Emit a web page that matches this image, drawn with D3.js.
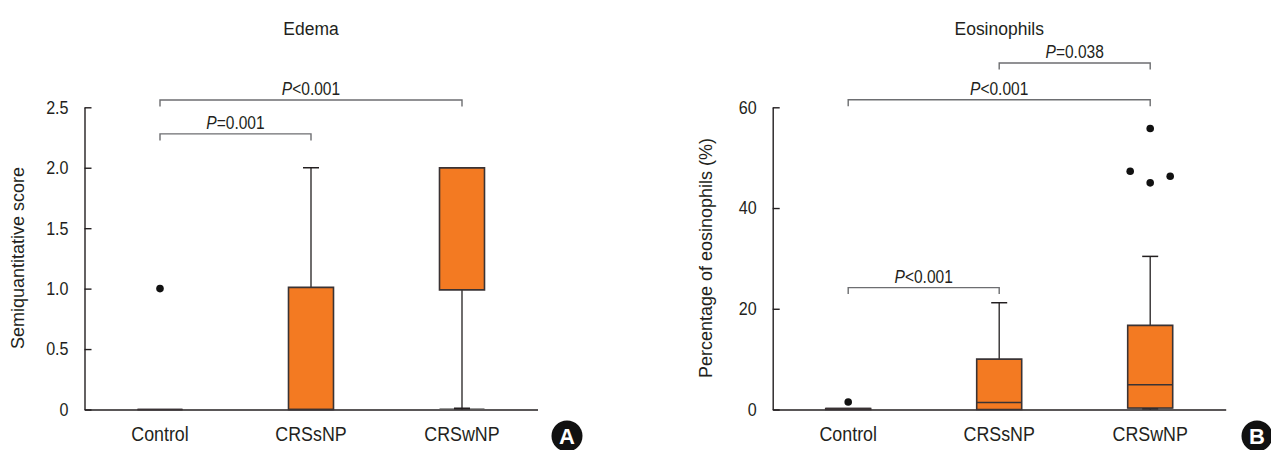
<!DOCTYPE html>
<html>
<head>
<meta charset="utf-8">
<script src="https://cdn.jsdelivr.net/npm/d3@7"></script>
<style>
  html, body { margin: 0; padding: 0; background: #fff; }
  svg { display: block; }
</style>
</head>
<body>
<svg id="chart" width="1271" height="450"></svg>
<script>
// ---------- data ----------
const categories = ["Control", "CRSsNP", "CRSwNP"];

// Panel A: Edema (semiquantitative score)
const edemaTicks = [0, 0.5, 1.0, 1.5, 2.0, 2.5];
const edemaTickLabels = ["0", "0.5", "1.0", "1.5", "2.0", "2.5"];
const edemaLow = [0, 0, 0];
const edemaQ1 = [0, 0, 0.99];
const edemaMedian = [0, 0, 2.0];
const edemaQ3 = [0, 1.01, 2.0];
const edemaHigh = [0, 2.0, 2.0];
const edemaOutliers = [[1.0], [], []];
const edemaComparisons = [
  { from: "Control", to: "CRSsNP", level: 2.28, label: ["P", "=0.001"] },
  { from: "Control", to: "CRSwNP", level: 2.56, label: ["P", "<0.001"] }
];

// Panel B: Eosinophils (%)
const eosTicks = [0, 20, 40, 60];
const eosTickLabels = ["0", "20", "40", "60"];
const eosLow = [0, 0, 0];
const eosQ1 = [0, 0, 0.3];
const eosMedian = [0.2, 1.4, 4.9];
const eosQ3 = [0.2, 10.0, 16.7];
const eosHigh = [0.2, 21.2, 30.4];
const eosOutliers = [[1.5], [], [55.8, 47.3, 45.0, 46.3]];
const eosComparisons = [
  { from: "Control", to: "CRSsNP", level: 24.2, label: ["P", "<0.001"] },
  { from: "Control", to: "CRSwNP", level: 61.5, label: ["P", "<0.001"] },
  { from: "CRSsNP", to: "CRSwNP", level: 68.8, label: ["P", "=0.038"] }
];

// ---------- drawing ----------
const svg = d3.select("#chart");
const ORANGE = "#F37A22";
const INK = "#231f20";

// condensed look built from Liberation Sans with a horizontal squeeze
function narrow(sel, size, squeeze) {
  sel.attr("font-family", "'Liberation Sans', Arial, sans-serif")
    .attr("font-size", size)
    .each(function () {
      const t = d3.select(this);
      const xv = +t.attr("x") || 0;
      t.attr("x", xv / squeeze).attr("transform", `scale(${squeeze},1)`);
    });
}

function panel(opts) {
  const g = svg.append("g");
  const x0 = opts.left, x1 = opts.left + 453;
  const yBottom = 409.5, yTop = 107.3;
  const x = d3.scaleBand().domain(categories).range([x0, x1]).paddingInner(0).paddingOuter(0);
  const y = d3.scaleLinear().domain(opts.domain).range([yBottom, yTop]);
  const cx = c => x(c) + x.bandwidth() / 2;
  const boxW = 45, capW = 16;

  // title
  g.append("text")
    .attr("x", cx(categories[1])).attr("y", 35)
    .attr("text-anchor", "middle").attr("fill", INK)
    .text(opts.title)
    .call(narrow, 19, 0.92);

  // y axis
  const yAxis = d3.axisLeft(y).tickValues(opts.ticks)
    .tickFormat((d, i) => opts.tickLabels[i])
    .tickSizeInner(-7).tickSizeOuter(0).tickPadding(16);
  const ya = g.append("g").attr("transform", `translate(${x0},0)`).call(yAxis);
  ya.attr("font-family", null).attr("font-size", null);
  ya.select(".domain").attr("stroke", INK).attr("stroke-width", 1.4);
  ya.selectAll(".tick line").attr("stroke", INK).attr("stroke-width", 1.4);
  ya.selectAll(".tick text").attr("fill", INK).call(narrow, 18.5, 0.87);

  // x axis
  const xAxis = d3.axisBottom(x).tickSize(0).tickPadding(17);
  const xa = g.append("g").attr("transform", `translate(0,${yBottom})`).call(xAxis);
  xa.attr("font-family", null).attr("font-size", null);
  xa.select(".domain").attr("stroke", INK).attr("stroke-width", 1.4);
  xa.selectAll(".tick text").attr("fill", INK).call(narrow, 21, 0.85);

  // y label
  g.append("text")
    .attr("font-family", "'Liberation Sans', Arial, sans-serif")
    .attr("transform", `translate(${x0 - 61},258) rotate(-90)`)
    .attr("text-anchor", "middle").attr("font-size", 18).attr("fill", INK)
    .text(opts.yLabel);

  // boxes
  const rows = categories.map((c, i) => ({
    c, low: opts.low[i], q1: opts.q1[i], med: opts.median[i], q3: opts.q3[i], high: opts.high[i], out: opts.outliers[i]
  }));
  const bg = g.append("g");
  rows.forEach(r => {
    const xc = cx(r.c);
    if (r.high > r.q3) {
      bg.append("line").attr("x1", xc).attr("x2", xc).attr("y1", y(r.q3)).attr("y2", y(r.high))
        .attr("stroke", INK).attr("stroke-width", 1.3);
      bg.append("line").attr("x1", xc - capW / 2).attr("x2", xc + capW / 2).attr("y1", y(r.high)).attr("y2", y(r.high))
        .attr("stroke", INK).attr("stroke-width", 1.5);
    }
    if (r.low < r.q1) {
      bg.append("line").attr("x1", xc).attr("x2", xc).attr("y1", y(r.q1)).attr("y2", y(r.low))
        .attr("stroke", INK).attr("stroke-width", 1.3);
      bg.append("line").attr("x1", xc - boxW / 2).attr("x2", xc + boxW / 2).attr("y1", y(r.low) - 1).attr("y2", y(r.low) - 1)
        .attr("stroke", "#9a9a9a").attr("stroke-width", 1);
      bg.append("line").attr("x1", xc - capW / 2).attr("x2", xc + capW / 2).attr("y1", y(r.low) - 1).attr("y2", y(r.low) - 1)
        .attr("stroke", INK).attr("stroke-width", 2);
    }
    const yb = y(r.q1), yt = y(r.q3);
    const xl = xc - boxW / 2, xr = xc + boxW / 2;
    bg.append("path")
      .attr("d", `M${xl},${yb}H${xr}V${yt}H${xl}Z`)
      .attr("fill", ORANGE).attr("stroke", "#3a3334").attr("stroke-width", 1.6);
    bg.append("line").attr("x1", xl).attr("x2", xr).attr("y1", y(r.med)).attr("y2", y(r.med))
      .attr("stroke", "#3a3334").attr("stroke-width", 1.6);
    // outliers: dodge clustered points (within 3 units) sideways by rank
    const sorted = r.out.slice().sort((a, b) => a - b);
    const offsets = new Map();
    let cluster = [];
    const flush = () => {
      cluster.forEach((v, k) => {
        const off = k === 0 ? 0 : (k % 2 === 1 ? 1 : -1) * Math.ceil(k / 2) * 20;
        offsets.set(v, cluster.length > 1 ? off : 0);
      });
      cluster = [];
    };
    sorted.forEach(v => {
      if (cluster.length && v - cluster[cluster.length - 1] > 3) flush();
      cluster.push(v);
    });
    flush();
    r.out.forEach(v => {
      bg.append("circle").attr("cx", xc + offsets.get(v)).attr("cy", y(v)).attr("r", 3.8).attr("fill", "#111");
    });
  });

  // significance brackets
  opts.comparisons.forEach(cmp => {
    const xa1 = cx(cmp.from), xb1 = cx(cmp.to), yy = y(cmp.level);
    g.append("path")
      .attr("d", `M${xa1},${yy + 6.5}V${yy}H${xb1}V${yy + 6.5}`)
      .attr("fill", "none").attr("stroke", "#6d6e71").attr("stroke-width", 1.4);
    const t = g.append("text")
      .attr("x", (xa1 + xb1) / 2).attr("y", yy - 5)
      .attr("text-anchor", "middle").attr("fill", INK);
    t.append("tspan").attr("font-style", "italic").text(cmp.label[0]);
    t.append("tspan").text(cmp.label[1]);
    t.call(narrow, 18.5, 0.84);
  });

  // panel letter
  const lg = g.append("g").attr("transform", `translate(${opts.letterX},436)`);
  lg.append("circle").attr("r", 15.5).attr("fill", "#111");
  lg.append("text").attr("font-family", "'Liberation Sans', Arial, sans-serif")
    .attr("text-anchor", "middle").attr("dy", "0.36em")
    .attr("font-size", 22).attr("font-weight", "bold").attr("fill", "#fff").text(opts.letter);
}

panel({
  left: 84.5, domain: [0, 2.5], title: "Edema", yLabel: "Semiquantitative score",
  ticks: edemaTicks, tickLabels: edemaTickLabels,
  low: edemaLow, q1: edemaQ1, median: edemaMedian, q3: edemaQ3, high: edemaHigh, outliers: edemaOutliers,
  comparisons: edemaComparisons, letter: "A", letterX: 567
});
panel({
  left: 772.7, domain: [0, 60], title: "Eosinophils", yLabel: "Percentage of eosinophils (%)",
  ticks: eosTicks, tickLabels: eosTickLabels,
  low: eosLow, q1: eosQ1, median: eosMedian, q3: eosQ3, high: eosHigh, outliers: eosOutliers,
  comparisons: eosComparisons, letter: "B", letterX: 1257
});
</script>
</body>
</html>
